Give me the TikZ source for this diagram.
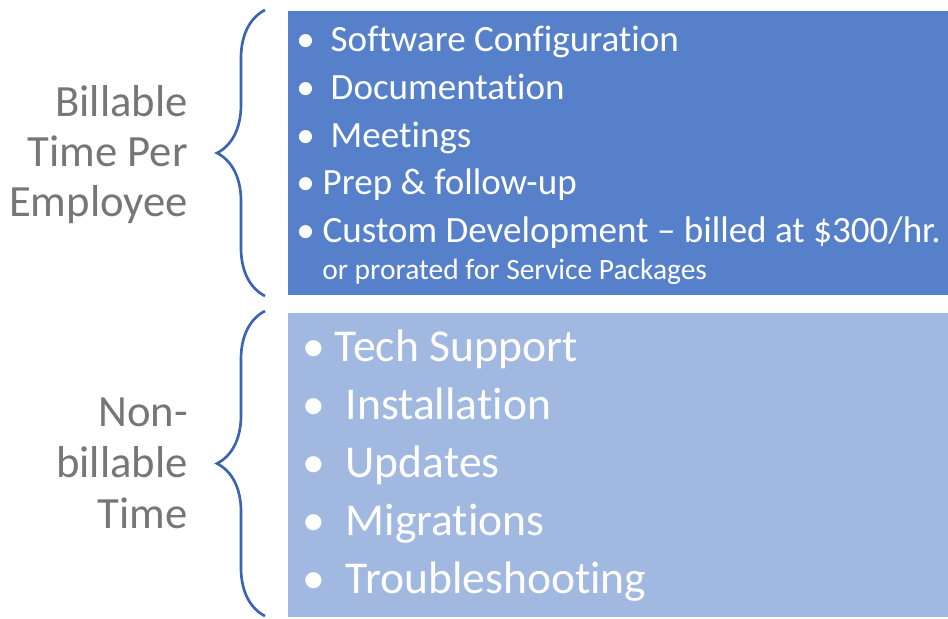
\documentclass[tikz,border=0pt]{standalone}
\usepackage{fontspec}
\setmainfont[Ligatures=NoCommon]{Carlito}
\usetikzlibrary{decorations.pathreplacing}

\definecolor{billblue}{RGB}{86,129,202}
\definecolor{freeblue}{RGB}{161,184,224}
\definecolor{bracecol}{RGB}{59,101,179}
\definecolor{labelgray}{RGB}{118,118,118}

\tikzset{
  lbl/.style={anchor=base east, inner sep=0pt, text=labelgray, font=\fontsize{33.5}{40}\selectfont},
  topitem/.style={anchor=base west, inner sep=0pt, text=white, font=\fontsize{27.8}{33}\selectfont},
  lowitem/.style={anchor=base west, inner sep=0pt, text=white, font=\fontsize{34.2}{40}\selectfont},
  bracket/.style={draw=bracecol, line width=2pt, decorate, decoration={brace, amplitude=36pt}},
}

\begin{document}
\begin{tikzpicture}[x=0.75pt, y=-0.75pt]
  \useasboundingbox (0,0) rectangle (948,618);

  % Boxes
  \fill[billblue] (288,11) rectangle (948,295);
  \fill[freeblue] (288,313) rectangle (948,617);

  % Braces
  \coordinate (btop) at (265,10);
  \coordinate (bbot) at (265,296);
  \coordinate (ntop) at (265,311);
  \coordinate (nbot) at (265,616);
  \draw[bracket] (bbot) -- (btop);
  \draw[bracket] (nbot) -- (ntop);

  % Left labels
  \node[lbl] (bill1) at (188,116.7) {Billable};
  \node[lbl] (bill2) at (188,166.7) {Time Per};
  \node[lbl] (bill3) at (188,216.7) {Employee};
  \node[lbl] (non1) at (188,426.7) {Non-};
  \node[lbl] (non2) at (188,477.5) {billable};
  \node[lbl] (non3) at (188,528.3) {Time};

  % Billable items
  \node[topitem] (soft) at (296,51.7) {•\hspace{12pt}Software Configuration};
  \node[topitem] (docs) at (296,99.3) {•\hspace{12pt}Documentation};
  \node[topitem] (meet) at (296,147) {•\hspace{12pt}Meetings};
  \node[topitem] (prep) at (296,194.5) {•\hspace{6pt}Prep \& follow-up};
  \node[topitem] (cust) at (296,242) {•\hspace{6pt}Custom Development – billed at \$300/hr.};
  \node[anchor=base west, inner sep=0pt, text=white, font=\fontsize{22.1}{26}\selectfont]
    (pror) at (322,279) {or prorated for Service Packages};

  % Non-billable items
  \node[lowitem] (tech) at (302,361.7) {•\hspace{7.5pt}Tech Support};
  \node[lowitem] (inst) at (302,419.7) {•\hspace{15.5pt}Installation};
  \node[lowitem] (upd) at (302,477.7) {•\hspace{15.5pt}Updates};
  \node[lowitem] (migr) at (302,535.7) {•\hspace{15.5pt}Migrations};
  \node[lowitem] (trbl) at (302,593.7) {•\hspace{15.5pt}Troubleshooting};
\end{tikzpicture}
\end{document}
